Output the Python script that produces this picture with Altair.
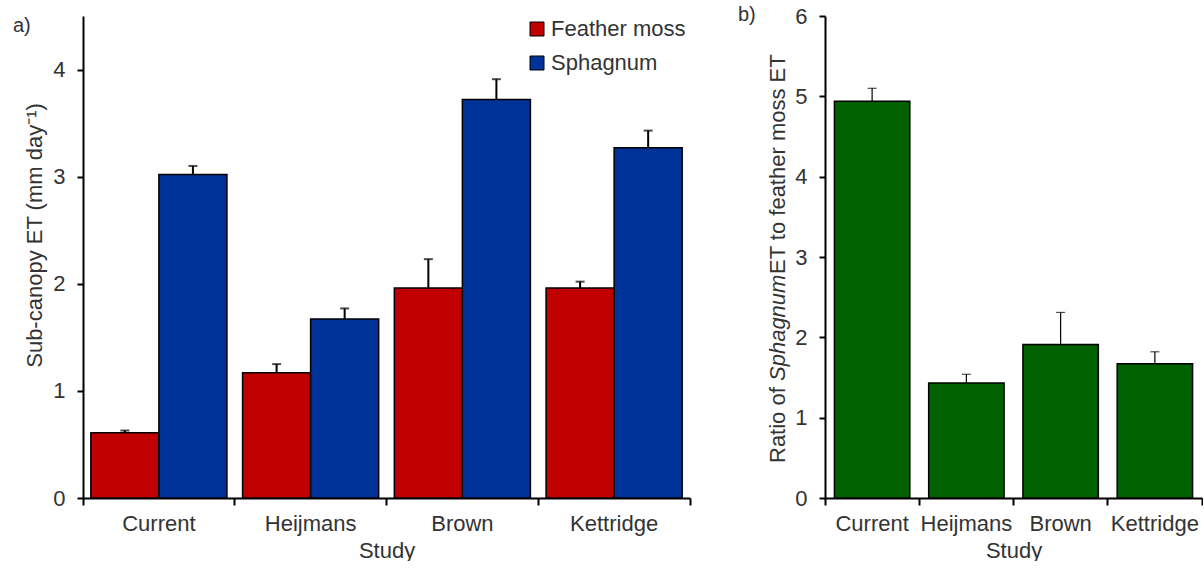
import altair as alt
import pandas as pd

studies = ["Current", "Heijmans", "Brown", "Kettridge"]
moss_types = ["Feather moss", "Sphagnum"]
feather = [0.61, 1.17, 1.96, 1.96]
feather_err = [0.02, 0.08, 0.27, 0.06]
sphagnum = [3.02, 1.67, 3.72, 3.27]
sphagnum_err = [0.08, 0.10, 0.19, 0.16]
ratio = [4.94, 1.43, 1.91, 1.67]
ratio_err = [0.16, 0.11, 0.40, 0.15]

FONT = "Liberation Sans"
TXT = "#333333"
RED = "#C00000"
BLUE = "#003399"
GREEN = "#006100"

rows = []
for i, s in enumerate(studies):
    rows.append({"Study": s, "Type": moss_types[0], "Value": feather[i], "Upper": feather[i] + feather_err[i]})
    rows.append({"Study": s, "Type": moss_types[1], "Value": sphagnum[i], "Upper": sphagnum[i] + sphagnum_err[i]})
dfa = pd.DataFrame(rows)
dfb = pd.DataFrame({"Study": studies, "Value": ratio, "Upper": [r + e for r, e in zip(ratio, ratio_err)]})

WA, HA = 607, 482
WB, HB = 377, 482

xa = alt.X("Study:N", sort=studies,
           scale=alt.Scale(paddingInner=0, paddingOuter=0),
           axis=alt.Axis(title="Study", labelAngle=0, bandPosition=1, tickExtra=True,
                         tickSize=7, labelPadding=8, titlePadding=6))
xoff = alt.XOffset("Type:N", sort=moss_types, scale=alt.Scale(paddingOuter=0.115, paddingInner=0))
ya = alt.Y("Value:Q", scale=alt.Scale(domain=[0, 4.5], nice=False),
           axis=alt.Axis(title="Sub-canopy ET (mm day\u207b\u00b9)", values=[0, 1, 2, 3, 4],
                         format="d", tickSize=6, labelPadding=12, titlePadding=6, titleY=219))

bars_a = alt.Chart(dfa).mark_bar(stroke="black", strokeWidth=1.5).encode(
    x=xa, xOffset=xoff, y=ya,
    color=alt.Color("Type:N", sort=moss_types,
                    scale=alt.Scale(domain=moss_types, range=[RED, BLUE]),
                    legend=alt.Legend(title=None, orient="none", legendX=443, legendY=2,
                                      symbolType="square", symbolSize=196,
                                      symbolStrokeColor="black", symbolStrokeWidth=1,
                                      labelFontSize=22, labelColor=TXT, labelFont=FONT,
                                      rowPadding=12, labelOffset=3))
)
err_a = alt.Chart(dfa).mark_rule(color="black", strokeWidth=2).encode(
    x=alt.X("Study:N", sort=studies), xOffset=alt.XOffset("Type:N", sort=moss_types),
    y="Value:Q", y2="Upper:Q")
cap_a = alt.Chart(dfa).mark_tick(color="black", thickness=2, size=9).encode(
    x=alt.X("Study:N", sort=studies), xOffset=alt.XOffset("Type:N", sort=moss_types),
    y="Upper:Q")
lab_a = alt.Chart(pd.DataFrame({"t": ["a)"]})).mark_text(
    align="left", baseline="middle", fontSize=20, font=FONT, color=TXT).encode(
    text="t:N", x=alt.value(-70), y=alt.value(10))

panel_a = alt.layer(bars_a, err_a, cap_a, lab_a).properties(width=WA, height=HA)

xb = alt.X("Study:N", sort=studies,
           scale=alt.Scale(paddingInner=0, paddingOuter=0),
           axis=alt.Axis(title="Study", labelAngle=0, bandPosition=1, tickExtra=True,
                         tickSize=7, labelPadding=8, titlePadding=6))
yb = alt.Y("Value:Q", scale=alt.Scale(domain=[0, 6], nice=False),
           axis=alt.Axis(title=None, values=[0, 1, 2, 3, 4, 5, 6], format="d",
                         tickSize=6, labelPadding=12))

bars_b = alt.Chart(dfb).mark_bar(stroke="black", strokeWidth=1.5, color=GREEN,
                                 width=alt.RelativeBandSize(0.8)).encode(x=xb, y=yb)
err_b = alt.Chart(dfb).mark_rule(color="black", strokeWidth=1.2).encode(
    x=alt.X("Study:N", sort=studies), y="Value:Q", y2="Upper:Q")
cap_b = alt.Chart(dfb).mark_tick(color="black", thickness=1.2, size=9).encode(
    x=alt.X("Study:N", sort=studies), y="Upper:Q")
lab_b = alt.Chart(pd.DataFrame({"t": ["b)"]})).mark_text(
    align="left", baseline="middle", fontSize=20, font=FONT, color=TXT).encode(
    text="t:N", x=alt.value(-87), y=alt.value(-1))

def title_piece(txt, ypos, style):
    return alt.Chart(pd.DataFrame({"t": [txt]})).mark_text(
        align="left", baseline="middle", angle=270, fontSize=22, font=FONT,
        fontStyle=style, color=TXT).encode(text="t:N", x=alt.value(-47), y=alt.value(ypos))

tb1 = title_piece("Ratio of", 447, "normal")
tb2 = title_piece("Sphagnum", 365, "italic")
tb3 = title_piece("ET to feather moss ET", 258, "normal")

panel_b = alt.layer(bars_b, err_b, cap_b, lab_b, tb1, tb2, tb3).properties(width=WB, height=HB)

chart = alt.hconcat(panel_a, panel_b, spacing=135, bounds="flush").properties(
    padding={"left": 13, "top": 5, "right": 0, "bottom": 0}
).configure_view(stroke=None).configure_axis(
    domainColor="black", domainWidth=2, tickColor="black", tickWidth=2,
    labelFont=FONT, labelFontSize=22, labelColor=TXT,
    titleFont=FONT, titleFontSize=22, titleFontWeight="normal", titleColor=TXT,
    grid=False
)

chart.save("out.html", embed_options={"renderer": "svg", "actions": False})
